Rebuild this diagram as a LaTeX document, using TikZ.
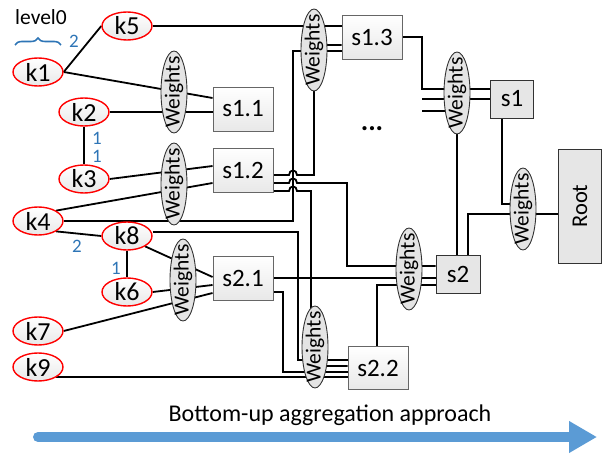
\documentclass[tikz,border=0pt]{standalone}
\usepackage{fontspec}
\setmainfont{Carlito}
\usetikzlibrary{shapes.geometric, arrows.meta, decorations.pathreplacing}
\definecolor{keyRed}{HTML}{FF0000}
\definecolor{numBlue}{HTML}{2E75B6}
\definecolor{flowBlue}{HTML}{5B9BD5}
\definecolor{wFill}{HTML}{E4E4E4}
\definecolor{aggFill}{HTML}{E6E6E6}
\pgfdeclarelayer{wires}
\pgfsetlayers{wires,main}
\begin{document}
\begin{tikzpicture}[x=1pt,y=-1pt,
  keynode/.style={ellipse, draw=keyRed, line width=1.4pt, top color=white, bottom color=black!9,
    minimum width=50pt, minimum height=28pt, inner sep=0pt, font=\fontsize{26}{30}\selectfont},
  wnode/.style={ellipse, draw=black!80, line width=0.9pt, fill=wFill,
    minimum width=26pt, minimum height=82pt, inner sep=0pt,
    label={[rotate=90, inner sep=0pt, font=\fontsize{21.5}{25}\selectfont]center:Weights}},
  subbox/.style={rectangle, draw=black!60, line width=0.9pt, top color=white, bottom color=black!9,
    minimum width=60pt, minimum height=44pt, inner sep=0pt, font=\fontsize{25}{29}\selectfont},
  aggbox/.style={rectangle, draw=black!80, line width=0.9pt, fill=aggFill,
    minimum width=44pt, minimum height=38pt, inner sep=0pt, font=\fontsize{25}{29}\selectfont},
  wire/.style={line width=1.8pt, black},
  hopnum/.style={text=numBlue, inner sep=0pt, font=\fontsize{19}{22}\selectfont}
]
\useasboundingbox (0,0) rectangle (605,454);

% level-0 key nodes
\node[keynode] (k1) at (38,72) {k1};
\node[keynode] (k5) at (127,26) {k5};
\node[keynode] (k2) at (84,112) {k2};
\node[keynode] (k3) at (84,179) {k3};
\node[keynode] (k4) at (38,221) {k4};
\node[keynode] (k8) at (127,236) {k8};
\node[keynode] (k6) at (127,292) {k6};
\node[keynode] (k7) at (38,331) {k7};
\node[keynode] (k9) at (38,367) {k9};

% level label, brace and hop counts
\node[inner sep=0pt, font=\fontsize{21.5}{25}\selectfont] (lvl) at (41,17) {level0};
\coordinate (braceL) at (15,45);
\coordinate (braceR) at (61,45);
\draw[numBlue, line width=1.6pt, decorate, decoration={brace, amplitude=7pt}] (braceL) -- (braceR);
\node[hopnum] (n1) at (74,41) {2};
\node[hopnum] (n2) at (97,138) {1};
\node[hopnum] (n3) at (97,156) {1};
\node[hopnum] (n4) at (77,246) {2};
\node[hopnum] (n5) at (116,268) {1};

% weighting stages
\node[wnode] (w1) at (174,92) {};
\node[wnode] (w2) at (174,184) {};
\node[wnode] (w3) at (183,280) {};
\node[wnode] (w4) at (314,50) {};
\node[wnode] (w5) at (315,347) {};
\node[wnode] (w6) at (409,269) {};
\node[wnode] (w7) at (457,93) {};
\node[wnode] (w8) at (523,209) {};

% sub-aggregators
\node[subbox] (s11) at (243,109) {s1.1};
\node[subbox] (s12) at (243,170) {s1.2};
\node[subbox] (s21) at (243,278) {s2.1};
\node[subbox] (s13) at (372,37) {s1.3};
\node[subbox, minimum height=43pt] (s22) at (378,368) {s2.2};
\node[aggbox, minimum width=43pt] (s1) at (512,99) {s1};
\node[aggbox] (s2) at (458,274) {s2};
\node[aggbox, minimum width=43pt, minimum height=114pt,
  label={[rotate=90, inner sep=0pt, font=\fontsize{22.5}{26}\selectfont]center:Root}] (root) at (580,206) {};
\node[inner sep=0pt, font=\bfseries\fontsize{28}{32}\selectfont] (dots) at (372,129) {...};

% open inputs of s1 from the omitted sub-aggregators
\coordinate (stubA) at (422,99);
\coordinate (stubB) at (422,111);

% flow arrow
\node[inner sep=0pt, font=\fontsize{24}{28}\selectfont] (flow) at (330,415) {Bottom-up aggregation approach};
\coordinate (arrS) at (38,437);
\coordinate (arrE) at (597,437);
\draw[flowBlue, line width=10pt, line cap=round, -{Triangle[length=28pt, width=30pt]}] (arrS) -- (arrE);

\begin{pgfonlayer}{wires}
  % key nodes to first-level aggregators
  \draw[wire] (k1.east) -- (k5.west);
  \draw[wire] (k5.east) -- (s13.west |- k5);
  \draw[wire] (k1.east) -- (s11.west |- 0,98);
  \draw[wire] (k2) -- (s11.west |- k2);
  \draw[wire] (k2) -- (k3);
  \draw[wire] (k3.east) -- (s12.west |- 0,166);
  \draw[wire] (k4.north east) -- (s12.west |- 0,183);
  \draw[wire] (k4.east) -- (293,221) -- (293,51) -- (s13.west |- 0,51);
  \draw[wire] (k4.south east) -- (k8.west);
  \draw[wire] (k8) -- (k6);
  \draw[wire] ([yshift=4pt]k8.east) -- (298,232) -- (298,360) -- (s22.west |- 0,360);
  \draw[wire] (k8.south east) -- (s21.west |- 0,277);
  \draw[wire] (k6.east) -- (s21.west |- 0,285);
  \draw[wire] (k7.east) -- (s21.west |- 0,293);
  \draw[wire] (k9.south east) -- (s22.west |- k9.south east);

  % s1.2 outputs, hopping over the k4 riser
  \draw[wire] (s12.east |- 0,175) -- (289,175) .. controls (289,169) and (297,169) .. (297,175)
     -- (314,175) -- (314,45) -- (s13.west |- 0,45);
  \draw[wire] (s12.east |- 0,183) -- (289,183) .. controls (289,177) and (297,177) .. (297,183)
     -- (347,183) -- (347,266) -- (s2.west |- 0,266);
  \draw[wire] (s12.east |- 0,191) -- (289,191) .. controls (289,185) and (297,185) .. (297,191)
     -- (311,191) -- (311,366) -- (s22.west |- 0,366);

  % s2.1 and s2.2 outputs
  \draw[wire] (s21.east) -- (s2.west |- s21.east);
  \draw[wire] (s21.east |- 0,292) -- (283,292) -- (283,372) -- (s22.west |- 0,372);
  \draw[wire] (s22.north -| 377,0) -- (377,285) -- (s2.west |- 0,285);

  % s1.3 and the omitted inputs into s1
  \draw[wire] (s13.east) -- (422,37) -- (422,89) -- (s1.west |- 0,89);
  \draw[wire] (stubA) -- (s1.west |- stubA);
  \draw[wire] (stubB) -- (w7.center |- stubB);

  % s1 and s2 into the root
  \draw[wire] (s2.north -| w7) -- (w7);
  \draw[wire] (s2.north -| 468,0) -- (468,214) -- (root.west |- 0,214);
  \draw[wire] (s1.south -| 502,0) -- (502,204) -- (w8.center |- 0,204);
\end{pgfonlayer}
\end{tikzpicture}
\end{document}
